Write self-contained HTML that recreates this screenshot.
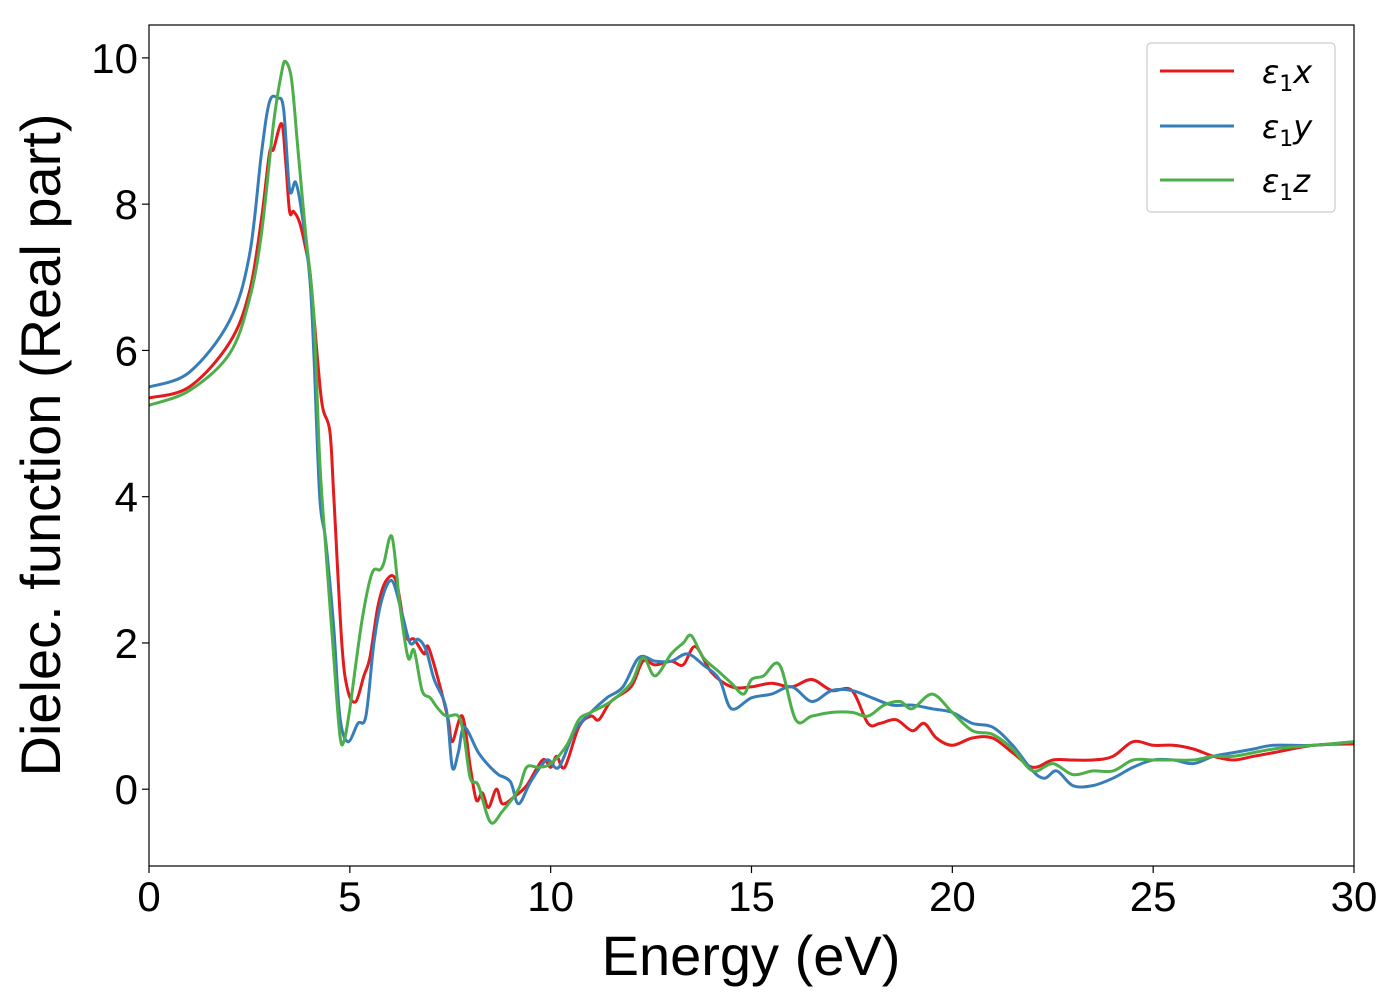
<!DOCTYPE html>
<html><head><meta charset="utf-8"><style>
body{margin:0;background:#fff}
svg{display:block;font-family:"Liberation Sans","DejaVu Sans",sans-serif}
</style></head><body>
<svg id="chart" width="1400" height="1000" viewBox="0 0 1400 1000" xmlns="http://www.w3.org/2000/svg">
<rect width="1400" height="1000" fill="#fff"/>
<g id="plot"></g>
<rect x="149" y="25" width="1205" height="841" fill="none" stroke="#000" stroke-width="1.2"/>
<g id="xticks"></g>
<g id="yticks"></g>
<text x="751" y="975" font-size="56" text-anchor="middle">Energy (eV)</text>
<text transform="translate(60,445) rotate(-90)" font-size="56" text-anchor="middle">Dielec. function (Real part)</text>
<g>
<rect x="1147" y="43" width="188" height="169" rx="4" fill="#fff" stroke="#ccc" stroke-width="1.2"/>
<g><line x1="1160" y1="71" x2="1234" y2="71" stroke="#e41a1c" stroke-width="3"/><text x="1262" y="83" font-size="32" font-family="DejaVu Sans" font-style="italic">ε<tspan font-size="22" dy="8" font-style="normal">1</tspan><tspan dy="-8">x</tspan></text></g>
<g><line x1="1160" y1="126" x2="1234" y2="126" stroke="#377eb8" stroke-width="3"/><text x="1262" y="138" font-size="32" font-family="DejaVu Sans" font-style="italic">ε<tspan font-size="22" dy="8" font-style="normal">1</tspan><tspan dy="-8">y</tspan></text></g>
<g><line x1="1160" y1="180" x2="1234" y2="180" stroke="#4daf4a" stroke-width="3"/><text x="1262" y="192" font-size="32" font-family="DejaVu Sans" font-style="italic">ε<tspan font-size="22" dy="8" font-style="normal">1</tspan><tspan dy="-8">z</tspan></text></g>
</g>
</svg>
<script>
const xTicks=[0,5,10,15,20,25,30];
const yTicks=[0,2,4,6,8,10];
const eX=[0,1,2,2.5,2.8,3.0,3.1,3.3,3.4,3.5,3.6,3.75,3.9,4.0,4.1,4.3,4.5,4.6,4.8,4.95,5.15,5.35,5.5,5.7,5.9,6.15,6.4,6.6,6.85,6.95,7.2,7.45,7.55,7.8,8.0,8.15,8.3,8.45,8.65,8.8,9.1,9.4,9.8,10.0,10.15,10.35,10.7,11.0,11.2,11.5,12.0,12.3,12.6,13.0,13.3,13.6,14.0,14.5,15.0,15.5,16.0,16.5,17,17.5,17.9,18.2,18.6,19.0,19.3,19.6,20,20.5,21,21.5,22,22.5,23,23.5,24,24.5,25,25.5,26,26.5,27,27.5,28,29,30];
const vX=[5.35,5.5,6.1,6.8,7.8,8.7,8.75,9.1,8.6,7.9,7.9,7.75,7.4,7.1,6.5,5.3,4.9,4.0,2.0,1.35,1.2,1.55,1.8,2.5,2.85,2.85,2.1,2.05,1.85,1.95,1.5,0.95,0.65,1.0,0.3,-0.15,-0.05,-0.25,0.0,-0.2,-0.1,0.05,0.4,0.3,0.45,0.3,0.85,1.0,0.95,1.2,1.4,1.75,1.7,1.75,1.7,1.95,1.6,1.4,1.4,1.45,1.4,1.5,1.35,1.35,0.9,0.9,0.95,0.8,0.9,0.7,0.6,0.7,0.7,0.5,0.3,0.4,0.4,0.4,0.45,0.65,0.6,0.6,0.55,0.45,0.4,0.45,0.5,0.6,0.62];
const eY=[0,1,2,2.5,2.8,3.0,3.2,3.35,3.5,3.65,3.8,4.0,4.1,4.25,4.4,4.6,4.75,4.95,5.2,5.4,5.6,5.8,6.05,6.3,6.5,6.7,6.9,7.1,7.4,7.55,7.7,7.85,8.2,8.5,8.7,9.0,9.2,9.5,9.9,10.2,10.6,11.0,11.4,11.8,12.2,12.6,13,13.4,13.8,14.2,14.5,15,15.5,16,16.5,17,17.5,18,18.5,19,19.5,20,20.5,21,21.5,22,22.3,22.6,23,23.5,24,24.5,25,25.5,26,26.5,27,27.5,28,29,30];
const vY=[5.5,5.7,6.4,7.3,8.7,9.4,9.45,9.3,8.2,8.3,7.9,7.0,6.0,4.0,3.4,2.2,1.0,0.65,0.9,1.0,2.0,2.6,2.85,2.4,2.0,2.05,1.9,1.5,1.1,0.3,0.5,0.85,0.5,0.3,0.2,0.1,-0.2,0.1,0.4,0.3,0.8,1.05,1.25,1.4,1.8,1.75,1.75,1.85,1.7,1.5,1.1,1.25,1.3,1.4,1.2,1.35,1.35,1.25,1.15,1.15,1.1,1.05,0.9,0.85,0.6,0.25,0.15,0.25,0.05,0.05,0.15,0.3,0.4,0.4,0.35,0.45,0.5,0.55,0.6,0.6,0.65];
const eZ=[0,1,2,2.5,2.8,3.1,3.3,3.4,3.55,3.7,3.9,4.1,4.25,4.4,4.6,4.75,4.85,5.0,5.3,5.55,5.75,5.85,6.05,6.25,6.45,6.6,6.8,7.0,7.2,7.4,7.7,7.85,8.0,8.2,8.5,8.8,9.2,9.4,9.7,10.0,10.4,10.7,11.0,11.5,12,12.3,12.6,13,13.3,13.5,13.8,14.2,14.5,14.8,15.0,15.3,15.7,16.1,16.5,17,17.5,17.9,18.3,18.7,19.0,19.5,20,20.5,21,21.5,22,22.5,23,23.5,24,24.5,25,25.5,26,26.5,27,28,29,30];
const vZ=[5.25,5.45,5.95,6.7,7.6,9.1,9.8,9.95,9.7,8.8,7.6,6.5,4.5,3.3,1.8,0.75,0.65,1.1,2.3,2.95,3.0,3.1,3.45,2.5,1.8,1.9,1.35,1.25,1.1,1.0,1.0,0.7,0.15,0.05,-0.45,-0.3,0.0,0.3,0.3,0.35,0.6,0.95,1.05,1.2,1.45,1.8,1.55,1.85,2.0,2.1,1.8,1.6,1.45,1.3,1.5,1.55,1.7,0.95,1.0,1.05,1.05,1.0,1.15,1.2,1.1,1.3,1.05,0.8,0.75,0.55,0.25,0.35,0.2,0.25,0.25,0.4,0.4,0.4,0.4,0.45,0.45,0.55,0.6,0.65];
const X0=149,X1=1354,Ymin=-1.05,Ymax=10.45,PT=25,PB=866;
function sx(e){return X0+(e-0)/(30-0)*(X1-X0);}
function sy(v){return PB-(v-Ymin)/(Ymax-Ymin)*(PB-PT);}
const NS='http://www.w3.org/2000/svg';
function pathFor(es,vs){
  const p=es.map((e,i)=>[sx(e),sy(vs[i])]);
  let d='M'+p[0][0].toFixed(1)+','+p[0][1].toFixed(1);
  for(let i=0;i<p.length-1;i++){
    const a=p[Math.max(0,i-1)],b=p[i],c=p[i+1],n=p[Math.min(p.length-1,i+2)];
    const c1=[b[0]+(c[0]-a[0])/6,b[1]+(c[1]-a[1])/6],c2=[c[0]-(n[0]-b[0])/6,c[1]-(n[1]-b[1])/6];
    d+='C'+c1[0].toFixed(1)+','+c1[1].toFixed(1)+' '+c2[0].toFixed(1)+','+c2[1].toFixed(1)+' '+c[0].toFixed(1)+','+c[1].toFixed(1);
  }
  return d;
}
const plot=document.getElementById('plot');
const defs=document.createElementNS(NS,'clipPath');defs.setAttribute('id','clip');
const cr=document.createElementNS(NS,'rect');cr.setAttribute('x',X0);cr.setAttribute('y',PT);cr.setAttribute('width',X1-X0);cr.setAttribute('height',PB-PT);
defs.appendChild(cr);plot.appendChild(defs);
[[eX,vX,'#e41a1c','series-eps1-x'],[eY,vY,'#377eb8','series-eps1-y'],[eZ,vZ,'#4daf4a','series-eps1-z']].forEach(s=>{
  const el=document.createElementNS(NS,'path');
  el.setAttribute('d',pathFor(s[0],s[1]));
  el.setAttribute('fill','none');el.setAttribute('stroke',s[2]);el.setAttribute('stroke-width','3');
  el.setAttribute('stroke-linejoin','round');el.setAttribute('clip-path','url(#clip)');
  
  
  plot.appendChild(el);
});
const xg=document.getElementById('xticks');
xTicks.forEach(t=>{
  const l=document.createElementNS(NS,'line');l.setAttribute('x1',sx(t));l.setAttribute('x2',sx(t));l.setAttribute('y1',PB);l.setAttribute('y2',PB+7);l.setAttribute('stroke','#000');l.setAttribute('stroke-width','1.2');
  
  
  xg.appendChild(l);
  const tx=document.createElementNS(NS,'text');tx.setAttribute('x',sx(t));tx.setAttribute('y',911);tx.setAttribute('font-size','42');tx.setAttribute('text-anchor','middle');tx.textContent=t;
  
  
  xg.appendChild(tx);
});
const yg=document.getElementById('yticks');
yTicks.forEach(t=>{
  const l=document.createElementNS(NS,'line');l.setAttribute('x1',X0-7);l.setAttribute('x2',X0);l.setAttribute('y1',sy(t));l.setAttribute('y2',sy(t));l.setAttribute('stroke','#000');l.setAttribute('stroke-width','1.2');
  
  
  yg.appendChild(l);
  const tx=document.createElementNS(NS,'text');tx.setAttribute('x',138);tx.setAttribute('y',sy(t)+15);tx.setAttribute('font-size','42');tx.setAttribute('text-anchor','end');tx.textContent=t;
  
  
  yg.appendChild(tx);
});
</script>
</body></html>
